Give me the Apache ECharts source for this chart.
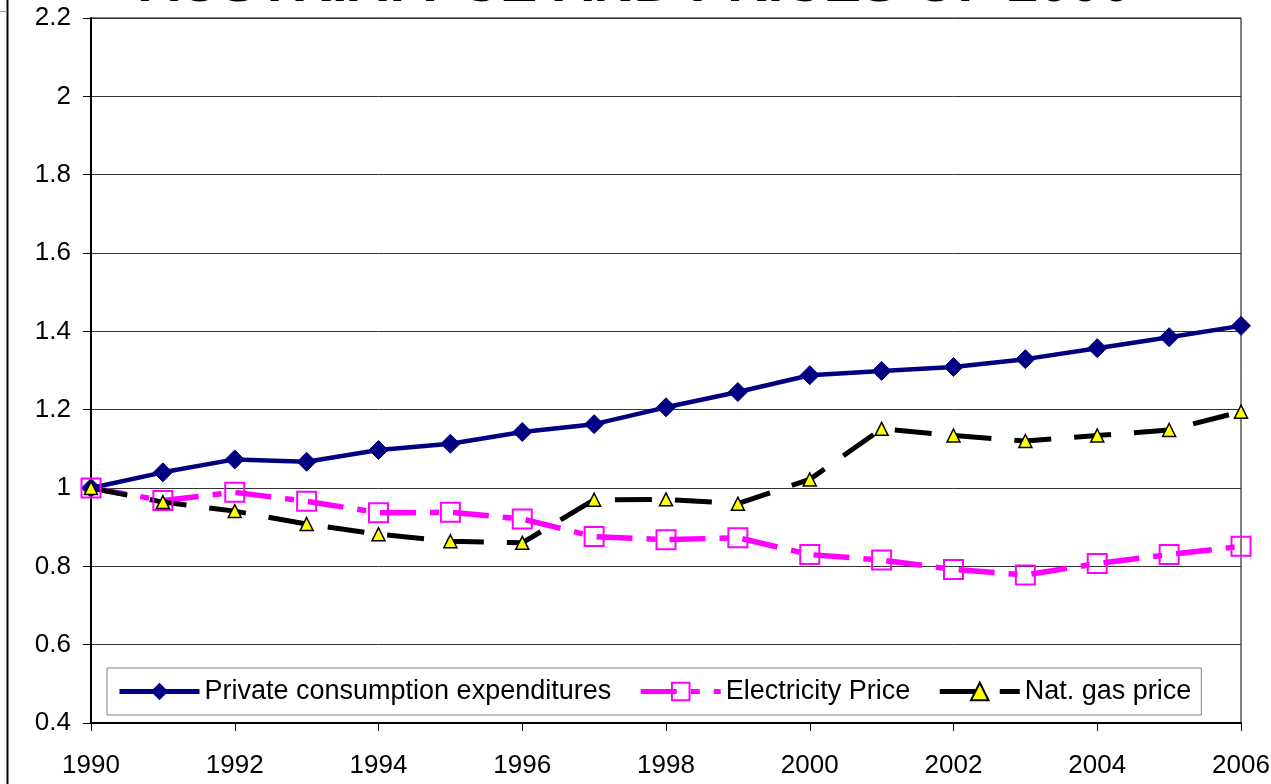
<!DOCTYPE html>
<html>
<head>
<meta charset="utf-8">
<script src="https://cdn.jsdelivr.net/npm/echarts@6/dist/echarts.min.js"></script>
<style>
html,body{margin:0;padding:0;background:#fff;}
#main{width:1271px;height:784px;}
</style>
</head>
<body>
<div id="main"></div>
<script>
var titleText = 'AUSTRIA: PCE AND PRICES OF 2000';
var years = [1990,1991,1992,1993,1994,1995,1996,1997,1998,1999,2000,2001,2002,2003,2004,2005,2006];
var seriesNames = ['Private consumption expenditures','Electricity Price','Nat. gas price'];
var privateConsumption = [1.000,1.040,1.073,1.067,1.097,1.113,1.143,1.163,1.206,1.245,1.288,1.299,1.309,1.329,1.357,1.385,1.414];
var electricityPrice   = [1.000,0.968,0.989,0.966,0.937,0.938,0.921,0.876,0.868,0.873,0.830,0.816,0.792,0.778,0.807,0.830,0.851];
var natGasPrice        = [1.000,0.964,0.941,0.908,0.882,0.864,0.860,0.970,0.971,0.960,1.022,1.151,1.134,1.120,1.134,1.148,1.195];
var yMin = 0.4, yMax = 2.2, yStep = 0.2;
var xMin = 1990, xMax = 2006, xStep = 2;

function pairs(vals){ return years.map(function(y,i){ return [y, vals[i]]; }); }

var FONT = '"Liberation Sans", Arial, sans-serif';
var chart = echarts.init(document.getElementById('main'), null, {renderer:'canvas'});
chart.setOption({
  animation: false,
  backgroundColor: '#fff',
  title: {
    text: titleText,
    left: 'center',
    top: -47,
    textStyle: {fontFamily: FONT, fontSize: 56, fontWeight: 'bold', color: '#000'}
  },
  graphic: [
    {type:'line', shape:{x1:7.5,y1:0,x2:7.5,y2:784}, style:{stroke:'#000', lineWidth:2}, silent:true},
    {type:'line', shape:{x1:0,y1:11.5,x2:7,y2:11.5}, style:{stroke:'#999', lineWidth:1}, silent:true}
  ],
  grid: {left: 91, right: 30, top: 18, bottom: 61, outerBoundsMode: 'none', containLabel: false,
         show: true, borderColor: '#000', borderWidth: 1, backgroundColor: 'transparent'},
  legend: {
    left: 107, top: 668,
    padding: [10, 10, 10, 10],
    itemGap: 27,
    itemWidth: 80, itemHeight: 22,
    backgroundColor: '#fff',
    borderColor: '#808080', borderWidth: 1,
    borderRadius: 0,
    lineStyle: {width: 5},
    textStyle: {fontFamily: FONT, fontSize: 27, color: '#000'},
    data: seriesNames
  },
  xAxis: {
    type: 'value', min: xMin, max: xMax, interval: xStep,
    axisLine: {show: true, onZero: false, lineStyle: {color: '#000', width: 2}},
    axisTick: {show: true, length: 8, lineStyle: {color: '#000', width: 1}},
    axisLabel: {fontFamily: FONT, fontSize: 26, color: '#000', margin: 30,
      formatter: function(v){ return String(v); }},
    splitLine: {show: false}
  },
  yAxis: {
    type: 'value', min: yMin, max: yMax, interval: yStep,
    axisLine: {show: true, lineStyle: {color: '#000', width: 2}},
    axisTick: {show: true, length: 8, lineStyle: {color: '#000', width: 1}},
    axisLabel: {fontFamily: FONT, fontSize: 26, color: '#000', margin: 20,
      formatter: function(v){ return String(Math.round(v*10)/10); }},
    splitLine: {show: true, lineStyle: {color: '#333', width: 1}}
  },
  series: [
    {
      name: seriesNames[0], type: 'line', data: pairs(privateConsumption),
      symbol: 'diamond', symbolSize: 19,
      lineStyle: {color: '#000080', width: 4.5},
      itemStyle: {color: '#000080', borderColor: '#000080'}
    },
    {
      name: seriesNames[1], type: 'line', data: pairs(electricityPrice),
      symbol: 'rect', symbolSize: 19,
      lineStyle: {color: '#FF00FF', width: 5.5, type: [36, 14, 9, 14], cap: 'butt'},
      itemStyle: {color: 'rgba(0,0,0,0)', borderColor: '#FF00FF', borderWidth: 2}
    },
    {
      name: seriesNames[2], type: 'line', data: pairs(natGasPrice),
      symbol: 'triangle', symbolSize: 13,
      lineStyle: {color: '#000', width: 5, type: [37, 23], cap: 'butt'},
      itemStyle: {color: '#FFFF00', borderColor: '#000', borderWidth: 1.5}
    }
  ]
});
</script>
</body>
</html>
